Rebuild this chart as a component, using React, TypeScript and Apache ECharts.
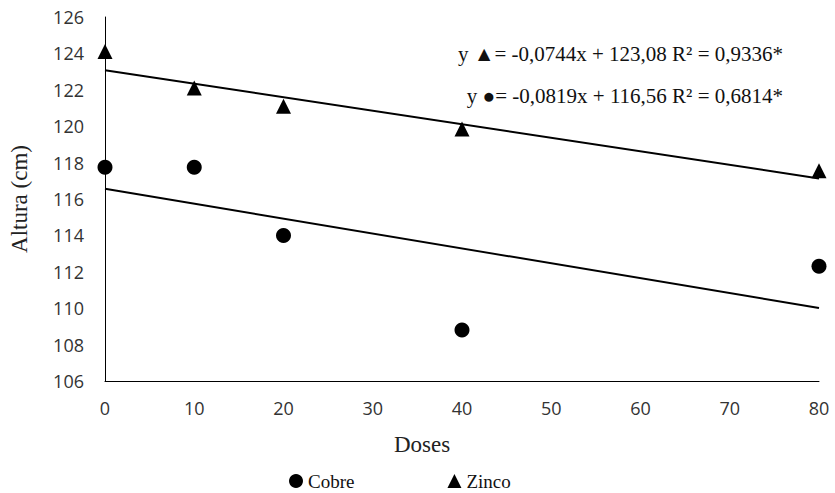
import React, { useEffect, useRef } from "react";
import * as echarts from "echarts";

const doses = [0, 10, 20, 40, 80];
const cobre = [117.75, 117.75, 114.0, 108.8, 112.3];
const zinco = [124.1, 122.1, 121.1, 119.85, 117.55];
const trendX = [0, 80];
const trendZinco = [123.08, 117.13];
const trendCobre = [116.56, 110.01];
const eqZinco = "y \u25B2= -0,0744x + 123,08 R\u00B2 = 0,9336*";
const eqCobre = "y \u25CF= -0,0819x + 116,56 R\u00B2 = 0,6814*";

export default function App() {
  const ref = useRef<HTMLDivElement>(null);
  useEffect(() => {
    const chart = echarts.init(ref.current!, null, { renderer: "svg" });
    const serif = "'Liberation Serif', 'Times New Roman', serif";
    const sans = "'Open Sans', sans-serif";
    chart.setOption({
      animation: false,
      backgroundColor: "#fff",
      grid: { left: 98, right: 16, top: 17, bottom: 112 },
      xAxis: {
        type: "value",
        min: 0,
        max: 80,
        interval: 10,
        axisLine: { show: true, lineStyle: { color: "#000", width: 1 } },
        axisTick: { show: false },
        splitLine: { show: false },
        axisLabel: { fontFamily: sans, fontSize: 18, color: "#333", margin: 18 },
      },
      yAxis: {
        type: "value",
        min: 106,
        max: 126,
        interval: 2,
        name: "Altura (cm)",
        nameLocation: "middle",
        nameGap: 74,
        nameTextStyle: { fontFamily: serif, fontSize: 23, color: "#222" },
        axisLine: { show: true, lineStyle: { color: "#000", width: 1 } },
        axisTick: { show: false },
        splitLine: { show: false },
        axisLabel: { fontFamily: sans, fontSize: 18, color: "#333", margin: 21 },
      },
      legend: {
        data: [
          { name: "Cobre", icon: "circle" },
          { name: "Zinco", icon: "triangle" },
        ],
        left: 289,
        top: 471,
        padding: 0,
        itemWidth: 14,
        itemHeight: 14,
        itemGap: 93,
        textStyle: { fontFamily: serif, fontSize: 19, lineHeight: 20, color: "#111" },
      },
      series: [
        {
          name: "Cobre",
          type: "scatter",
          symbol: "circle",
          symbolSize: 15,
          itemStyle: { color: "#000", opacity: 1 },
          data: doses.map((d, i) => [d, cobre[i]]),
          z: 3,
        },
        {
          name: "Zinco",
          type: "scatter",
          symbol: "triangle",
          symbolSize: 15,
          itemStyle: { color: "#000", opacity: 1 },
          data: doses.map((d, i) => [d, zinco[i]]),
          z: 3,
        },
        {
          name: "trendZinco",
          type: "line",
          symbol: "none",
          lineStyle: { color: "#000", width: 2 },
          data: trendX.map((x, i) => [x, trendZinco[i]]),
        },
        {
          name: "trendCobre",
          type: "line",
          symbol: "none",
          lineStyle: { color: "#000", width: 2 },
          data: trendX.map((x, i) => [x, trendCobre[i]]),
        },
      ],
      graphic: [
        {
          type: "text",
          x: 783,
          y: 54,
          style: {
            text: eqZinco,
            fontFamily: serif,
            fontSize: 21,
            fill: "#111",
            align: "right",
            verticalAlign: "middle",
          },
        },
        {
          type: "text",
          x: 783,
          y: 96,
          style: {
            text: eqCobre,
            fontFamily: serif,
            fontSize: 21,
            fill: "#111",
            align: "right",
            verticalAlign: "middle",
          },
        },
        {
          type: "text",
          x: 422,
          y: 444,
          style: {
            text: "Doses",
            fontFamily: serif,
            fontSize: 23,
            fill: "#222",
            align: "center",
            verticalAlign: "middle",
          },
        },
      ],
    });
    return () => chart.dispose();
  }, []);
  return (
    <div
      ref={ref}
      style={{ position: "fixed", left: 0, top: 0, width: 835, height: 493 }}
    />
  );
}
